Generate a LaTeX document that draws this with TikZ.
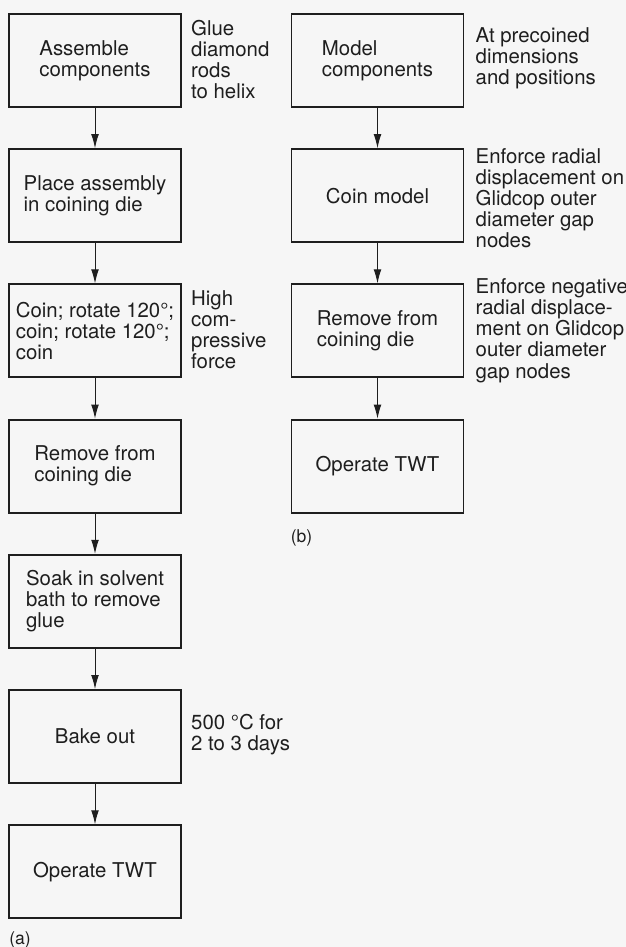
\documentclass[tikz,border=0pt]{standalone}
\usepackage{fontspec}
\setmainfont{TeX Gyre Heros}
\usepackage{xcolor}
\definecolor{inkgray}{HTML}{1E1E1E}
\definecolor{paperbg}{HTML}{F6F6F6}
\usetikzlibrary{arrows.meta, positioning, calc}

\begin{document}
\begin{tikzpicture}[
    font=\fontsize{14.5}{15}\selectfont\color{inkgray},
    arr/.style={
        -{Latex[length=10pt, width=5.5pt]},
        inkgray, line width=0.7pt,
    },
    stepbox/.style={
        rectangle, draw=inkgray, line width=1.3pt,
        minimum width=4.3cm, minimum height=2.325cm,
        inner sep=0pt, align=left,
    },
    note/.style={
        inner sep=0pt, align=left, anchor=north west,
    },
    tag/.style={
        inner sep=0pt, anchor=north west,
        font=\fontsize{12.5}{13}\selectfont\color{inkgray},
    },
]

% -- page --
\fill[paperbg] (0,0) rectangle (15.65,-23.675);
\useasboundingbox (0,0) rectangle (15.65,-23.675);

% ============ COLUMN (a): PROCESS ============
\node[stepbox, anchor=north] (a1) at (2.375,-0.325) {Assemble\\components};
\node[stepbox, below=1.01cm of a1] (a2) {Place assembly\\in coining die};
\node[stepbox, below=1.01cm of a2] (a3) {Coin; rotate 120°;\\coin; rotate 120°;\\coin};
\node[stepbox, below=1.01cm of a3] (a4) {Remove from\\coining die};
\node[stepbox, below=1.01cm of a4] (a5) {Soak in solvent\\bath to remove\\glue};
\node[stepbox, below=1.01cm of a5] (a6) {Bake out};
\node[stepbox, below=1.01cm of a6] (a7) {Operate TWT};

\draw[arr] (a1.south) -- (a2.north);
\draw[arr] (a2.south) -- (a3.north);
\draw[arr] (a3.south) -- (a4.north);
\draw[arr] (a4.south) -- (a5.north);
\draw[arr] (a5.south) -- (a6.north);
\draw[arr] (a6.south) -- (a7.north);

% -- notes (a) --
\node[note] (na1) at ([xshift=0.225cm, yshift=-0.175cm]a1.north east)
    {Glue\\diamond\\rods\\to helix};
\node[note] (na3) at ([xshift=0.225cm, yshift=-0.175cm]a3.north east)
    {High\\com-\\pressive\\force};
\node[note, anchor=west] (na6) at ([xshift=0.225cm, yshift=0.05cm]a6.east)
    {500 °C for\\2 to 3 days};

\node[tag] (taga) at ([xshift=0.025cm, yshift=-0.3cm]a7.south west) {(a)};

% ============ COLUMN (b): MODEL ============
\node[stepbox, anchor=north] (b1) at (9.4375,-0.325) {Model\\components};
\node[stepbox, below=1.01cm of b1] (b2) {Coin model};
\node[stepbox, below=1.01cm of b2] (b3) {Remove from\\coining die};
\node[stepbox, below=1.01cm of b3] (b4) {Operate TWT};

\draw[arr] (b1.south) -- (b2.north);
\draw[arr] (b2.south) -- (b3.north);
\draw[arr] (b3.south) -- (b4.north);

% -- notes (b) --
\node[note] (nb1) at ([xshift=0.275cm, yshift=-0.35cm]b1.north east)
    {At precoined\\dimensions\\and positions};
\node[note] (nb2) at ([xshift=0.275cm, yshift=-0.0cm]b2.north east)
    {Enforce radial\\displacement on\\Glidcop outer\\diameter gap\\nodes};
\node[note] (nb3) at ([xshift=0.275cm, yshift=0.125cm]b3.north east)
    {Enforce negative\\radial displace-\\ment on Glidcop\\outer diameter\\gap nodes};

\node[tag] (tagb) at ([xshift=0.0cm, yshift=-0.4cm]b4.south west) {(b)};

\end{tikzpicture}
\end{document}
